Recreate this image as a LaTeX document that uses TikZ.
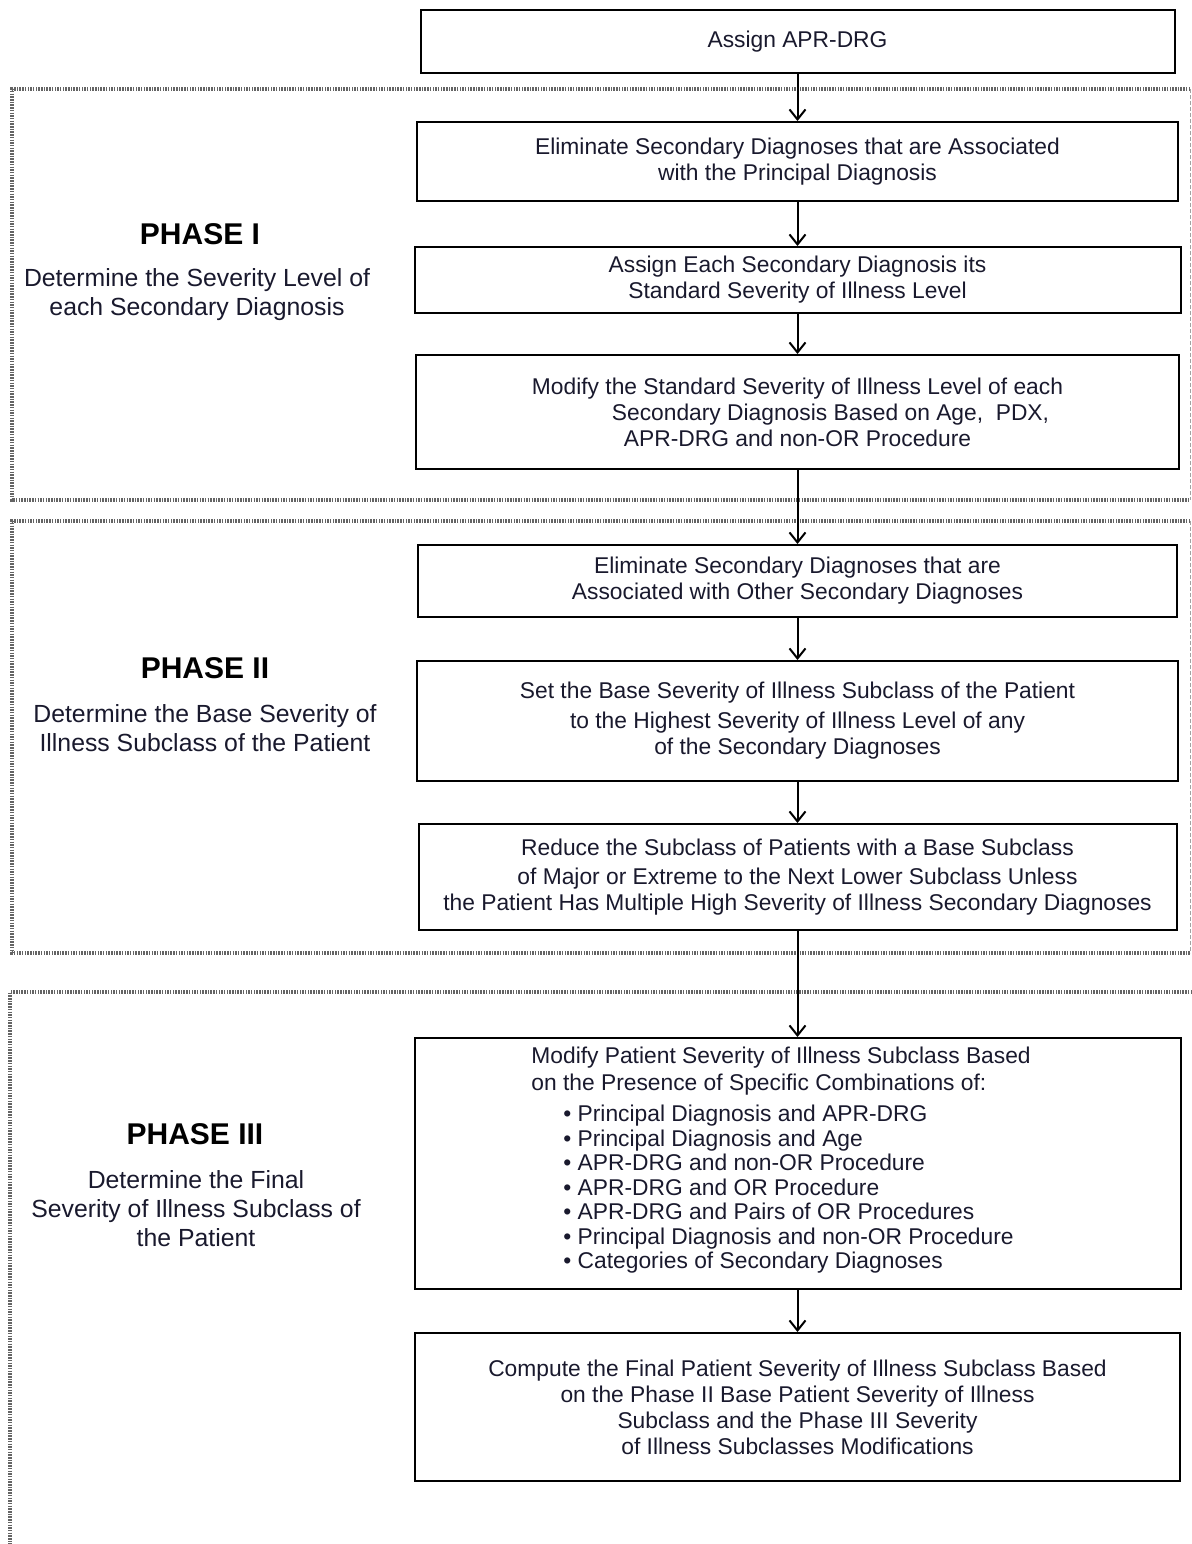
\documentclass[tikz,border=0pt]{standalone}
\usepackage{fontspec}
\setmainfont{Liberation Sans}
\usepackage{xcolor}
\usetikzlibrary{arrows.meta,positioning}
\definecolor{inkblue}{RGB}{25,25,45}
\definecolor{framegray}{RGB}{100,100,100}

\begin{document}
\begin{tikzpicture}[x=0.5pt,y=-0.5pt,
    procbox/.style={draw=black,line width=1pt,rectangle,align=center,inner sep=0pt,
        text=inkblue,font=\fontsize{11.4}{13}\selectfont},
    phasehead/.style={text=black,font=\fontsize{15}{18}\selectfont\bfseries},
    phasetext/.style={text=inkblue,align=center,font=\fontsize{12.4}{14.5}\selectfont},
    phaseline/.style={framegray,line width=1.7pt,dash pattern=on 0.75pt off 0.6pt},
    phaseedge/.style={framegray!60,line width=0.5pt,dash pattern=on 2pt off 1pt},
    flow/.style={-{Straight Barb[length=5pt,width=8pt]},line width=1pt}]
                \useasboundingbox (0,0) rectangle (1192,1544);

                % Phase frames
                \draw[phaseline] (1190,89) -- (12,89) -- (12,500) -- (1190,500);
                \draw[phaseedge] (1190,89) -- (1190,500);
                \draw[phaseline] (1190,521) -- (12,521) -- (12,953) -- (1190,953);
                \draw[phaseedge] (1190,521) -- (1190,953);
                \draw[phaseline] (1192,992) -- (10,992) -- (10,1544);

                % Phase labels
                \node[phasehead] (h1) at (200,234) {PHASE I};
                \node[phasetext] (t1) at (197,294.5) {Determine the Severity Level of\\each Secondary Diagnosis};
                \node[phasehead] (h2) at (205,668) {PHASE II};
                \node[phasetext] (t2) at (205,728) {Determine the Base Severity of\\Illness Subclass of the Patient};
                \node[phasehead] (h3) at (195,1134) {PHASE III};
                \node[phasetext] (t3) at (196,1208.5) {Determine the Final\\Severity of Illness Subclass of\\the Patient};

                % Steps
                \node[procbox,minimum width=377pt,minimum height=31.5pt] (b0) at (797.5,41.5) {Assign APR-DRG};
                \node[procbox,minimum width=380.5pt,minimum height=39.5pt] (b1) at (797.5,161.5)
                    {Eliminate Secondary Diagnoses that are Associated\\with the Principal Diagnosis};
                \node[procbox,minimum width=383pt,minimum height=33pt] (b2) at (797.5,280)
                    {Assign Each Secondary Diagnosis its\\Standard Severity of Illness Level};
                \node[procbox,minimum width=381.5pt,minimum height=57pt] (b3) at (797.5,412)
                    {Modify the Standard Severity of Illness Level of each\\\hspace*{33pt}Secondary Diagnosis Based on Age,\ \ PDX,\\APR-DRG and non-OR Procedure};
                \node[procbox,minimum width=379.5pt,minimum height=36pt] (b4) at (797.5,581)
                    {Eliminate Secondary Diagnoses that are\\Associated with Other Secondary Diagnoses};
                \node[procbox,minimum width=380.5pt,minimum height=60pt] (b5) at (797.5,721)
                    {Set the Base Severity of Illness Subclass of the Patient\\[2pt]to the Highest Severity of Illness Level of any\\of the Secondary Diagnoses};
                \node[procbox,minimum width=379pt,minimum height=53pt] (b6) at (797.5,877)
                    {Reduce the Subclass of Patients with a Base Subclass\\[1.5pt]of Major or Extreme to the Next Lower Subclass Unless\\the Patient Has Multiple High Severity of Illness Secondary Diagnoses};
                \node[procbox,minimum width=383pt,minimum height=125.5pt] (b7) at (797.5,1163.5) {};
                \node[anchor=west,inner sep=0pt,align=left,text=inkblue,
                    font=\fontsize{11.4}{12.25}\selectfont] (b7txt) at (531,1160.5)
                    {Modify Patient Severity of Illness Subclass Based\\[1.25pt]
                     on the Presence of Specific Combinations of:\\[3.25pt]
                     \hspace*{16pt}\textbullet\ Principal Diagnosis and APR-DRG\\
                     \hspace*{16pt}\textbullet\ Principal Diagnosis and Age\\
                     \hspace*{16pt}\textbullet\ APR-DRG and non-OR Procedure\\
                     \hspace*{16pt}\textbullet\ APR-DRG and OR Procedure\\
                     \hspace*{16pt}\textbullet\ APR-DRG and Pairs of OR Procedures\\
                     \hspace*{16pt}\textbullet\ Principal Diagnosis and non-OR Procedure\\
                     \hspace*{16pt}\textbullet\ Categories of Secondary Diagnoses};
                \node[procbox,minimum width=382.5pt,minimum height=74pt] (b8) at (797.5,1407)
                    {Compute the Final Patient Severity of Illness Subclass Based\\on the Phase II Base Patient Severity of Illness\\Subclass and the Phase III Severity\\of Illness Subclasses Modifications};

                % Flow
                \foreach \a/\b in {b0/b1,b1/b2,b2/b3,b3/b4,b4/b5,b5/b6,b6/b7,b7/b8}
                    \draw[flow] (\a) -- (\b);
            \end{tikzpicture}
\end{document}
